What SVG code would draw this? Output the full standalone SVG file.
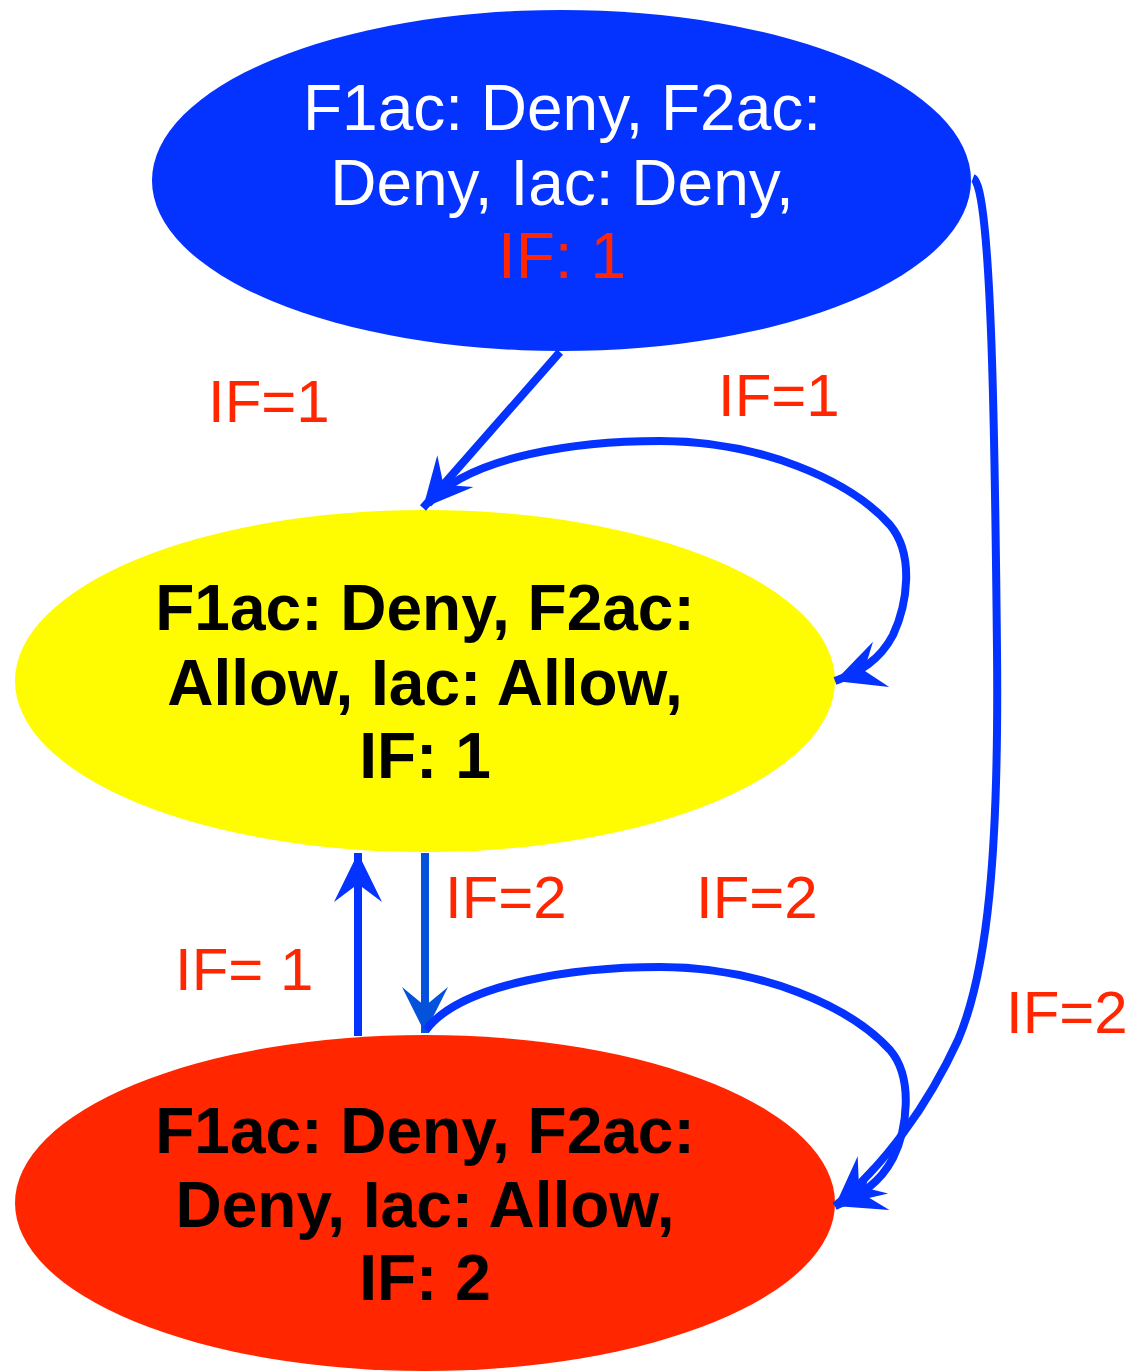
<svg xmlns="http://www.w3.org/2000/svg" width="1137" height="1371" viewBox="0 0 1137 1371">
  <style>
    .node-text { font-family: "Liberation Sans", Arial, sans-serif; font-size: 64px; text-anchor: middle; }
    .bold { font-weight: bold; fill: #000000; }
    .label { font-family: "Liberation Sans", Arial, sans-serif; font-size: 60px; fill: #FF2600; }
    .edge { fill: none; stroke: #0433FF; stroke-width: 8; }
    .edge-dark { fill: none; stroke: #0451DC; stroke-width: 8; }
  </style>
  <defs>
    <marker id="head" markerUnits="userSpaceOnUse" markerWidth="64" markerHeight="64" viewBox="-58 -32 64 64" refX="0" refY="0" orient="auto">
      <path d="M0,0 L-49,-24 L-31,0 L-49,24 Z" fill="#0433FF"/>
    </marker>
    <marker id="head-dark" markerUnits="userSpaceOnUse" markerWidth="64" markerHeight="64" viewBox="-58 -32 64 64" refX="0" refY="0" orient="auto">
      <path d="M0,0 L-46,-23 L-27,0 L-46,23 Z" fill="#0451DC"/>
    </marker>
  </defs>

  <rect width="1137" height="1371" fill="#FFFFFF"/>

  <g id="node-start">
    <ellipse cx="561.5" cy="180.5" rx="409.5" ry="170.5" fill="#0433FF"/>
    <text class="node-text" x="562" y="130" fill="#FFFFFF">F1ac: Deny, F2ac:</text>
    <text class="node-text" x="562" y="205" fill="#FFFFFF">Deny, Iac: Deny,</text>
    <text class="node-text" x="562" y="278" fill="#FF2600">IF: 1</text>
  </g>

  <g id="node-if1">
    <ellipse cx="425" cy="681" rx="410" ry="171" fill="#FFFB00"/>
    <text class="node-text bold" x="425" y="630">F1ac: Deny, F2ac:</text>
    <text class="node-text bold" x="425" y="705">Allow, Iac: Allow,</text>
    <text class="node-text bold" x="425" y="778">IF: 1</text>
  </g>

  <g id="node-if2">
    <ellipse cx="425" cy="1203" rx="410" ry="168" fill="#FF2600"/>
    <text class="node-text bold" x="425" y="1153">F1ac: Deny, F2ac:</text>
    <text class="node-text bold" x="425" y="1227">Deny, Iac: Allow,</text>
    <text class="node-text bold" x="425" y="1300">IF: 2</text>
  </g>

  <g id="connectors">
    <!-- start -> IF 1 -->
    <path class="edge" d="M560,352 L423,508" marker-end="url(#head)"/>
    <!-- IF 1 self loop -->
    <path class="edge" d="M428,504 C470,455 580,441 660,441 C760,441 850,480 890,525 C915,555 907,605 893,635 C880,660 860,672 835,681" marker-end="url(#head)"/>
    <!-- IF 1 -> IF 2 -->
    <path class="edge-dark" d="M425,853 L425,1033" marker-end="url(#head-dark)"/>
    <!-- IF 2 -> IF 1 -->
    <path class="edge" d="M358,1036 L358,853" marker-end="url(#head)"/>
    <!-- IF 2 self loop -->
    <path class="edge" d="M426,1030 C462,982 580,967 660,967 C760,967 850,1006 890,1050 C914,1078 907,1130 893,1158 C880,1183 860,1196 835,1206" marker-end="url(#head)"/>
    <!-- start -> IF 2 -->
    <path class="edge" d="M973,178 C992,185 995,450 997,650 C999,850 988,970 958,1040 C928,1105 885,1165 835,1206" marker-end="url(#head)"/>
  </g>

  <g id="labels">
    <text class="label" x="208" y="422">IF=1</text>
    <text class="label" x="718" y="416">IF=1</text>
    <text class="label" x="445" y="918">IF=2</text>
    <text class="label" x="696" y="918">IF=2</text>
    <text class="label" x="175" y="990">IF= 1</text>
    <text class="label" x="1006" y="1033">IF=2</text>
  </g>
</svg>
